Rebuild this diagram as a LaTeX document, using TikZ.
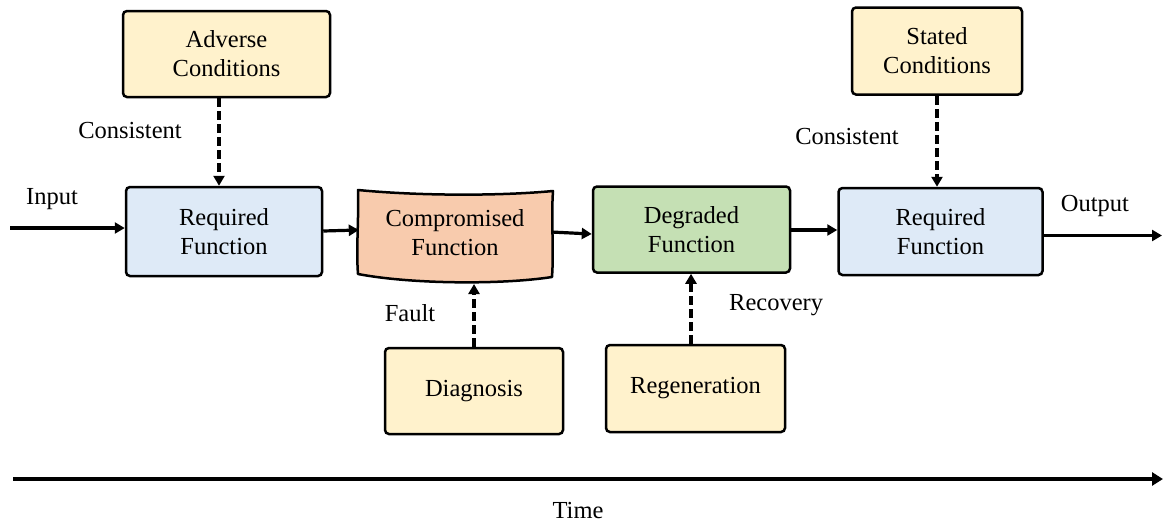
\documentclass[tikz,border=0pt]{standalone}
\usepackage{fontspec}
\setmainfont{Liberation Serif}
\usetikzlibrary{arrows.meta,calc}
\definecolor{cyellow}{HTML}{FFF2CC}
\definecolor{cblue}{HTML}{DEEAF7}
\definecolor{cgreen}{HTML}{C5E0B4}
\definecolor{corange}{HTML}{F8CBAD}
\tikzset{
  box/.style={draw=black, line width=2.5pt, rounded corners=4pt, align=center,
    font=\fontsize{24.5}{29}\selectfont, inner sep=0pt},
  lbl/.style={font=\fontsize{24.5}{29}\selectfont, inner sep=0pt},
  flow/.style={line width=3.2pt, -{Triangle[length=10pt,width=11pt]}},
  dflow/.style={line width=3.2pt, dash pattern=on 9pt off 4pt, -{Triangle[length=10pt,width=11pt]}},
  timeflow/.style={line width=4.5pt, -{Triangle[length=11pt,width=13pt]}}
}
\begin{document}
\begin{tikzpicture}[x=1pt,y=-1pt]
\useasboundingbox (0,0) rectangle (1163,523);
% boxes
\node[box, fill=cyellow, minimum width=207pt, minimum height=86pt] (adv) at (226.5,54) {Adverse\\Conditions};
\node[box, fill=cyellow, minimum width=170pt, minimum height=87pt] (stat) at (937,51) {Stated\\Conditions};
\node[box, fill=cblue, minimum width=196pt, minimum height=89pt] (req1) at (224,231.5) {Required\\Function};
\node[box, fill=cgreen, minimum width=197pt, minimum height=86pt] (deg) at (691.5,229.5) {Degraded\\Function};
\node[box, fill=cblue, minimum width=204pt, minimum height=87pt] (req2) at (940.5,231.5) {Required\\Function};
\node[box, fill=cyellow, minimum width=178pt, minimum height=86pt] (diag) at (474,391) {Diagnosis};
\node[box, fill=cyellow, minimum width=179pt, minimum height=87pt] (regen) at (695.5,388.5) {Regeneration};
% compromised (hand-drawn box)
\node[inner sep=0pt, minimum width=196pt, minimum height=88pt] (comp) at (455,233) {};
\path[fill=corange, draw=black, line width=2.5pt, line join=round]
  ($(comp.center)+(-97,-43)$)
  .. controls ($(comp.center)+(-35,-37)$) and ($(comp.center)+(45,-37)$) .. ($(comp.center)+(98,-42)$)
  .. controls ($(comp.center)+(96,-13)$) and ($(comp.center)+(99,17)$) .. ($(comp.center)+(97,44)$)
  .. controls ($(comp.center)+(45,52)$) and ($(comp.center)+(-45,51)$) .. ($(comp.center)+(-97,41)$)
  .. controls ($(comp.center)+(-99,17)$) and ($(comp.center)+(-96,-18)$) .. ($(comp.center)+(-97,-43)$)
  -- cycle;
\node[align=center, font=\fontsize{24.5}{29}\selectfont, inner sep=0pt] (comptext) at (comp) {Compromised\\Function};
% coordinates for free ends
\coordinate (inS) at (10,228);
\coordinate (outE) at (1162,235.5);
\coordinate (tS) at (13,479);
\coordinate (tE) at (1163,479);
% main flow
\draw[flow] (inS) -- (req1.west |- inS);
\draw[flow] (req1.east |- 0,231) -- ($(comp.west)+(2,-3)$);
\draw[flow] ($(comp.east)+(-2,-1)$) -- (deg.west |- 0,234);
\draw[flow] (deg.east |- 0,230) -- (req2.west |- 0,230);
\draw[flow] (req2.east |- outE) -- (outE);
% dashed influences
\draw[dflow] (adv.south -| 219,0) -- (req1.north -| 219,0);
\draw[dflow] (stat.south -| 937,0) -- (req2.north -| 937,0);
\draw[dflow] (diag.north) -- (diag.north |- 0,284);
\draw[dflow] (regen.north -| 691,0) -- (deg.south -| 691,0);
% time axis
\draw[timeflow] (tS) -- (tE);
% labels
\node[lbl] (linput) at (52,199) {Input};
\node[lbl] (lcons1) at (130,131) {Consistent};
\node[lbl] (lcons2) at (847,137) {Consistent};
\node[lbl] (loutput) at (1095,206) {Output};
\node[lbl] (lfault) at (410,313) {Fault};
\node[lbl, anchor=west] (lrec) at (729,305) {Recovery};
\node[lbl] (ltime) at (578,511) {Time};
\end{tikzpicture}
\end{document}
